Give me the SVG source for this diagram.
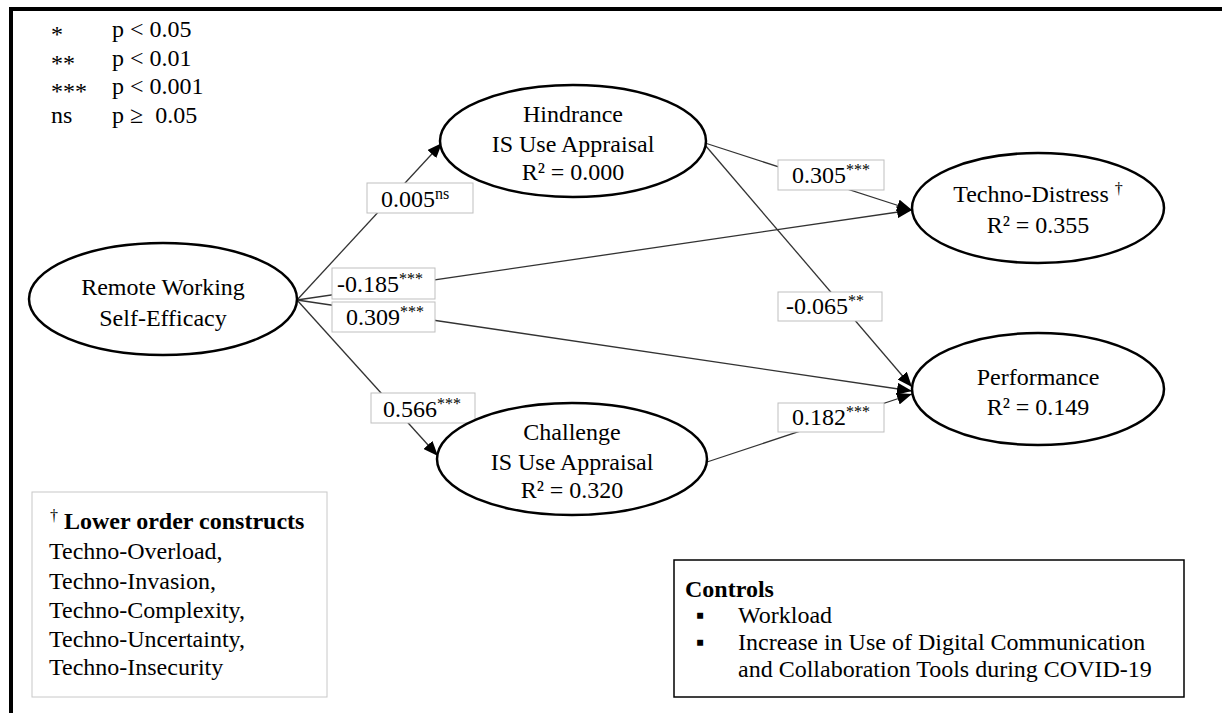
<svg xmlns="http://www.w3.org/2000/svg" width="1222" height="713" viewBox="0 0 1222 713">
<style>
text{font-family:'Liberation Serif','Tinos','DejaVu Serif','Noto Serif','Times New Roman',Times,serif;font-size:24px;fill:#000}
.c{text-anchor:middle}
.b{font-weight:bold}
.sup{font-size:16px}
.node{fill:#fff;stroke:#000;stroke-width:2.5}
.edge{stroke:#333;stroke-width:1.3;fill:none}
.lbl{fill:#fff;stroke:#bfbfbf;stroke-width:1}
</style>
<defs>
<marker id="arr" markerUnits="userSpaceOnUse" markerWidth="15" markerHeight="12" refX="15" refY="6" orient="auto">
<path d="M0,0 L15,6 L0,12 z" fill="#000"/>
</marker>
</defs>
<rect width="1222" height="713" fill="#fff"/>
<g id="frame">
<line x1="9" y1="9" x2="1222" y2="9" stroke="#000" stroke-width="4"/>
<line x1="11" y1="7" x2="11" y2="713" stroke="#000" stroke-width="4"/>
</g>
<g id="legend" font-family="Liberation Serif, serif">
<text x="51" y="42" fill="#222">*</text><text x="112" y="37">p &lt; 0.05</text>
<text x="51" y="71" fill="#222">**</text><text x="112" y="66">p &lt; 0.01</text>
<text x="51" y="99" fill="#222">***</text><text x="112" y="94">p &lt; 0.001</text>
<text x="51" y="123">ns</text><text x="112" y="123" xml:space="preserve">p ≥  0.05</text>
</g>
<g id="connectors">
<line class="edge" x1="297" y1="300" x2="442" y2="143" marker-end="url(#arr)"/>
<line class="edge" x1="297" y1="300" x2="912" y2="210" marker-end="url(#arr)"/>
<line class="edge" x1="297" y1="300" x2="912" y2="391" marker-end="url(#arr)"/>
<line class="edge" x1="297" y1="300" x2="438" y2="456" marker-end="url(#arr)"/>
<line class="edge" x1="705" y1="143" x2="912" y2="210" marker-end="url(#arr)"/>
<line class="edge" x1="705" y1="145" x2="912" y2="387" marker-end="url(#arr)"/>
<line class="edge" x1="707" y1="462" x2="912" y2="394" marker-end="url(#arr)"/>
<rect class="lbl" x="367" y="183" width="106" height="30"/>
<text x="381" y="207">0.005<tspan class="sup" dy="-8">ns</tspan></text>
<rect class="lbl" x="332" y="268" width="103" height="31"/>
<text x="337" y="292">-0.185<tspan class="sup" dy="-8">***</tspan></text>
<rect class="lbl" x="332" y="302" width="103" height="30"/>
<text x="346" y="325">0.309<tspan class="sup" dy="-8">***</tspan></text>
<rect class="lbl" x="371" y="393" width="104" height="30"/>
<text x="383" y="417">0.566<tspan class="sup" dy="-8">***</tspan></text>
<rect class="lbl" x="778" y="160" width="106" height="30"/>
<text x="792" y="183">0.305<tspan class="sup" dy="-8">***</tspan></text>
<rect class="lbl" x="778" y="292" width="104" height="29"/>
<text x="786" y="314">-0.065<tspan class="sup" dy="-8">**</tspan></text>
<rect class="lbl" x="778" y="403" width="106" height="29"/>
<text x="792" y="425">0.182<tspan class="sup" dy="-8">***</tspan></text>
</g>
<g id="remote">
<ellipse class="node" cx="163" cy="299" rx="134" ry="56"/>
<text class="c" x="163" y="295">Remote Working</text>
<text class="c" x="163" y="326">Self-Efficacy</text>
</g>
<g id="hindrance">
<ellipse class="node" cx="573" cy="141" rx="133" ry="56"/>
<text class="c" x="573" y="122">Hindrance</text>
<text class="c" x="573" y="152">IS Use Appraisal</text>
<text class="c" x="573" y="180">R² = 0.000</text>
</g>
<g id="challenge">
<ellipse class="node" cx="572" cy="459" rx="135" ry="56"/>
<text class="c" x="572" y="440">Challenge</text>
<text class="c" x="572" y="470">IS Use Appraisal</text>
<text class="c" x="572" y="498">R² = 0.320</text>
</g>
<g id="technodistress">
<ellipse class="node" cx="1038" cy="208" rx="126" ry="55"/>
<text class="c" x="1038" y="202">Techno-Distress <tspan class="sup" dy="-8">†</tspan></text>
<text class="c" x="1038" y="233">R² = 0.355</text>
</g>
<g id="performance">
<ellipse class="node" cx="1038" cy="389" rx="126" ry="56"/>
<text class="c" x="1038" y="385">Performance</text>
<text class="c" x="1038" y="415">R² = 0.149</text>
</g>
<g id="lower-order">
<rect x="32" y="492" width="295" height="205" fill="#fff" stroke="#c8c8c8" stroke-width="1"/>
<text x="50" y="529"><tspan class="sup" dy="-8">†</tspan><tspan class="b" dy="8"> Lower order constructs</tspan></text>
<text x="49" y="559">Techno-Overload,</text>
<text x="49" y="589">Techno-Invasion,</text>
<text x="49" y="618">Techno-Complexity,</text>
<text x="49" y="647">Techno-Uncertainty,</text>
<text x="49" y="675">Techno-Insecurity</text>
</g>
<g id="controls">
<rect x="674" y="560" width="510" height="137" fill="#fff" stroke="#000" stroke-width="1.5"/>
<text class="b" x="685" y="597">Controls</text>
<text x="696" y="623" font-size="20">▪</text><text x="738" y="623">Workload</text>
<text x="696" y="650" font-size="20">▪</text><text x="738" y="650">Increase in Use of Digital Communication</text>
<text x="738" y="677">and Collaboration Tools during COVID-19</text>
</g>
</svg>
